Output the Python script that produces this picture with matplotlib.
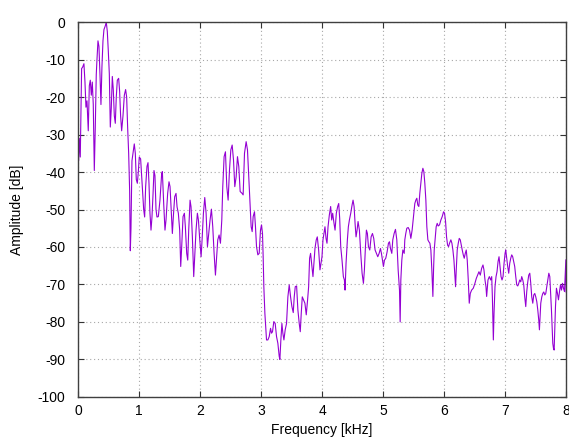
import matplotlib
matplotlib.use("Agg")
import matplotlib.pyplot as plt

# Magnitude spectrum, frequency in kHz and amplitude in dB
freq_khz = [
    0.000, 0.011, 0.022, 0.038, 0.060, 0.077, 0.098, 0.115, 0.131, 0.148,
    0.169, 0.186, 0.202, 0.219, 0.235, 0.251, 0.268, 0.284, 0.300, 0.311,
    0.328, 0.344, 0.361, 0.377, 0.393, 0.410, 0.426, 0.448, 0.464, 0.481,
    0.497, 0.514, 0.530, 0.546, 0.563, 0.579, 0.596, 0.612, 0.628, 0.645,
    0.667, 0.683, 0.699, 0.716, 0.738, 0.760, 0.781, 0.798, 0.814, 0.831,
    0.847, 0.858, 0.869, 0.885, 0.907, 0.923, 0.940, 0.956, 0.973, 0.989,
    1.005, 1.027, 1.044, 1.060, 1.077, 1.093, 1.109, 1.131, 1.148, 1.164,
    1.180, 1.197, 1.213, 1.230, 1.246, 1.262, 1.279, 1.295,
    1.317, 1.344, 1.372, 1.383, 1.405, 1.426, 1.443, 1.470, 1.492, 1.509,
    1.525, 1.547, 1.563, 1.585, 1.607, 1.624, 1.645, 1.667, 1.684, 1.700,
    1.722, 1.744, 1.760, 1.782, 1.799, 1.815, 1.837, 1.853, 1.875, 1.897,
    1.914, 1.935, 1.957, 1.974, 1.996, 2.018, 2.034, 2.056, 2.078, 2.100,
    2.122, 2.144, 2.165, 2.187, 2.209, 2.231, 2.253, 2.269, 2.291, 2.313,
    2.335, 2.357, 2.373, 2.395, 2.417, 2.439, 2.461, 2.483, 2.505, 2.527,
    2.549, 2.570, 2.592, 2.614, 2.636, 2.658,
    2.690, 2.707, 2.729, 2.756, 2.778, 2.794, 2.816, 2.838, 2.855, 2.871,
    2.893, 2.909, 2.926, 2.948, 2.970, 2.991, 3.008, 3.024, 3.035, 3.046,
    3.063, 3.079, 3.090, 3.112, 3.134, 3.156, 3.172, 3.188, 3.210, 3.232,
    3.254, 3.276, 3.298, 3.309, 3.325, 3.342, 3.358, 3.375, 3.396, 3.418,
    3.440, 3.462, 3.484, 3.506, 3.528, 3.544, 3.561, 3.583, 3.604, 3.626,
    3.643, 3.659, 3.676, 3.697, 3.719, 3.741, 3.763, 3.780, 3.796, 3.812,
    3.829, 3.851, 3.867, 3.884, 3.905, 3.922, 3.944, 3.966, 3.982, 3.999,
    4.015,
    4.048, 4.065, 4.081, 4.098, 4.119, 4.141, 4.158, 4.174, 4.196, 4.213,
    4.234, 4.256, 4.273, 4.289, 4.306, 4.327, 4.349, 4.366, 4.377, 4.393,
    4.415, 4.431, 4.448, 4.470, 4.492, 4.508, 4.525, 4.541, 4.557, 4.574,
    4.590, 4.612, 4.634, 4.656, 4.678, 4.694, 4.711, 4.727, 4.743, 4.760,
    4.782, 4.804, 4.826, 4.847, 4.869, 4.891, 4.913, 4.935, 4.957, 4.973,
    4.990, 5.006, 5.023, 5.044, 5.066, 5.088, 5.105, 5.121, 5.143, 5.159,
    5.181, 5.203, 5.225, 5.247, 5.269, 5.280, 5.291, 5.307, 5.324, 5.346,
    5.356, 5.372, 5.389, 5.411, 5.433, 5.455, 5.476, 5.498, 5.520, 5.537,
    5.553, 5.569, 5.586, 5.602, 5.619, 5.635, 5.652, 5.668, 5.684, 5.701,
    5.717, 5.734, 5.750, 5.767, 5.783, 5.799, 5.810, 5.816, 5.827, 5.838,
    5.854, 5.870, 5.887, 5.903, 5.925, 5.947, 5.969, 5.991, 6.007, 6.024,
    6.040, 6.057, 6.073, 6.089, 6.111, 6.128, 6.144, 6.161, 6.177, 6.188,
    6.199, 6.215, 6.232, 6.248, 6.265, 6.281, 6.297, 6.314, 6.330, 6.347,
    6.363, 6.379, 6.396, 6.412, 6.429, 6.451, 6.478, 6.505, 6.527, 6.549,
    6.571, 6.593, 6.615, 6.637, 6.653, 6.670, 6.686, 6.697,
    6.719, 6.741, 6.763, 6.780, 6.791, 6.802, 6.807, 6.818, 6.834, 6.851,
    6.867, 6.884, 6.900, 6.916, 6.933, 6.949, 6.966, 6.982, 6.999, 7.010,
    7.026, 7.042, 7.059, 7.075, 7.092, 7.108, 7.124, 7.141, 7.157, 7.174,
    7.190, 7.207, 7.223, 7.239, 7.256, 7.272, 7.289, 7.305, 7.321, 7.338,
    7.354, 7.371, 7.387, 7.404, 7.420, 7.436, 7.453, 7.469, 7.486, 7.502,
    7.519, 7.535, 7.551, 7.562, 7.573, 7.584, 7.601, 7.617, 7.633, 7.650,
    7.666, 7.683, 7.699, 7.716, 7.732, 7.743, 7.759, 7.770, 7.781, 7.792,
    7.803, 7.814, 7.825, 7.841, 7.858, 7.874, 7.891, 7.907, 7.924, 7.940,
    7.956, 7.973, 7.989, 7.995, 8.000,
]

amp_db = [
    -33.0, -37.0, -31.0, -36.0, -12.4, -12.0, -11.1, -16.0, -22.7, -21.0,
    -29.0, -17.0, -15.5, -19.5, -16.0, -22.0, -39.6, -28.0, -14.0, -10.2,
    -5.0, -6.5, -14.0, -22.0, -12.0, -5.0, -2.0, -1.0, 0.0, -2.5,
    -7.6, -13.8, -28.0, -23.0, -14.5, -18.0, -25.0, -27.0, -20.0, -15.5,
    -15.0, -18.5, -25.0, -29.0, -25.0, -19.5, -18.0, -20.0, -28.0, -35.0,
    -45.0, -61.0, -55.0, -37.0, -34.5, -32.5, -35.0, -42.0, -43.0, -40.0,
    -36.0, -36.5, -41.0, -45.0, -50.0, -52.0, -44.0, -38.5, -37.5, -43.0,
    -51.0, -55.5, -52.0, -46.0, -39.6, -41.0, -50.0, -52.0,
    -51.9, -47.5, -40.4, -39.9, -48.4, -55.5, -52.8, -45.7, -42.6, -43.9,
    -49.3, -56.4, -51.9, -46.6, -45.7, -49.3, -51.0, -55.5, -65.2, -59.9,
    -51.9, -51.0, -54.6, -61.7, -63.5, -55.5, -47.5, -49.3, -57.3, -67.9,
    -62.6, -55.5, -51.0, -52.8, -58.1, -62.6, -58.1, -51.0, -46.8, -51.0,
    -59.9, -56.4, -52.8, -49.9, -54.6, -61.7, -67.5, -63.5, -58.1, -56.8,
    -59.0, -52.8, -43.9, -35.9, -34.6, -43.9, -47.5, -39.5, -34.1, -32.8,
    -36.8, -43.9, -41.3, -35.9, -38.6, -45.2,
    -45.7, -46.1, -35.0, -31.9, -34.1, -39.5, -47.5, -54.6, -55.9, -51.9,
    -50.6, -54.6, -59.9, -62.1, -61.7, -55.5, -54.1, -56.4, -62.6, -70.6,
    -77.7, -82.1, -84.8, -84.8, -83.9, -81.7, -83.0, -82.6, -79.9, -80.4,
    -83.9, -85.7, -89.2, -90.0, -84.8, -80.4, -83.0, -84.8, -82.1, -80.4,
    -73.3, -70.1, -73.3, -75.9, -77.5, -73.3, -70.6, -70.4, -76.8, -80.4,
    -82.6, -77.7, -73.3, -74.1, -75.0, -78.1, -74.1, -70.6, -63.0, -61.7,
    -64.4, -67.9, -64.4, -60.4, -58.1, -57.3, -60.8, -66.1, -64.4, -62.6,
    -58.1,
    -54.6, -57.7, -59.0, -54.6, -51.5, -49.2, -52.8, -51.0, -53.7, -55.5,
    -51.0, -49.2, -48.4, -52.4, -59.9, -63.5, -67.9, -68.8, -71.5, -64.4,
    -58.1, -54.6, -52.8, -51.0, -48.8, -47.5, -49.2, -53.7, -57.3, -55.5,
    -53.2, -55.5, -61.7, -67.0, -69.7, -66.1, -59.9, -55.5, -56.4, -59.9,
    -60.8, -57.3, -56.4, -57.7, -60.8, -61.7, -62.6, -61.7, -60.4, -61.7,
    -63.5, -65.2, -63.5, -63.0, -61.3, -59.0, -58.6, -60.4, -61.7, -58.1,
    -56.4, -55.3, -58.1, -66.1, -71.5, -80.0, -68.8, -63.5, -60.8, -61.7,
    -58.1, -56.4, -55.0, -54.8, -55.5, -57.7, -55.5, -51.9, -48.4, -47.5,
    -47.0, -48.8, -49.2, -45.7, -43.0, -40.4, -39.0, -39.9, -43.0, -47.5,
    -54.6, -58.1, -58.6, -59.0, -60.8, -66.1, -70.6, -73.2, -66.1, -60.8,
    -57.7, -54.6, -53.7, -54.4, -54.1, -52.8, -51.9, -50.6, -51.0, -53.2,
    -57.3, -59.5, -59.9, -59.0, -58.1, -59.0, -60.8, -63.5, -67.9, -70.6,
    -66.1, -60.8, -59.0, -57.7, -58.1, -59.5, -60.8, -62.1, -63.0, -61.7,
    -60.8, -63.5, -68.8, -75.0, -72.4, -71.5, -71.0, -69.7, -68.4, -67.5,
    -66.6, -67.5, -65.7, -64.8, -66.1, -68.8, -70.6, -73.2,
    -68.8, -67.9, -68.8, -67.9, -73.3, -81.2, -84.8, -77.7, -70.6, -67.9,
    -66.6, -63.9, -62.6, -65.2, -67.9, -68.8, -67.9, -64.4, -61.7, -60.8,
    -63.0, -65.2, -67.0, -64.4, -63.0, -62.1, -62.6, -63.9, -65.2, -67.9,
    -70.1, -70.4, -69.7, -68.8, -69.3, -67.9, -68.8, -70.1, -73.3, -75.9,
    -71.9, -69.3, -67.5, -67.0, -69.7, -73.3, -75.0, -72.8, -72.4, -73.3,
    -74.6, -76.8, -79.5, -82.1, -78.6, -75.0, -73.3, -72.4, -72.0, -72.8,
    -72.4, -70.6, -68.8, -67.0, -67.9, -71.5, -76.8, -81.2, -85.7, -87.0,
    -87.5, -82.1, -75.9, -71.0, -72.4, -74.1, -71.9, -70.1, -71.5, -69.7,
    -71.0, -71.9, -66.1, -63.4, -72.0,
]

x_ticks = [0, 1, 2, 3, 4, 5, 6, 7, 8]
y_ticks = [0, -10, -20, -30, -40, -50, -60, -70, -80, -90, -100]

plt.rcParams['font.family'] = ['Liberation Sans', 'DejaVu Sans']

fig = plt.figure(figsize=(5.69, 4.42), dpi=100)
ax = fig.add_axes([0.137, 0.102, 0.858, 0.848])

ax.plot(freq_khz, amp_db, color='#9400D3', linewidth=0.8)

ax.set_xlim(0, 8)
ax.set_ylim(-100, 0)
ax.set_xticks(x_ticks)
ax.set_yticks(y_ticks)
ax.set_xticklabels([str(t) for t in x_ticks], fontsize=10)
ax.set_yticklabels([str(t) for t in y_ticks], fontsize=10)
ax.tick_params(direction='in', length=4, width=0.8, top=True, right=True,
               color='#333333')
ax.tick_params(axis='y', pad=9)
ax.tick_params(axis='x', pad=5)

ax.grid(True, color='#a8a8a8', linestyle=(0, (1, 2.5)), linewidth=0.8)
for spine in ax.spines.values():
    spine.set_color('#404040')
    spine.set_linewidth(1.0)

ax.set_xlabel('Frequency [kHz]', fontsize=10, labelpad=4)
ax.set_ylabel('Amplitude [dB]', fontsize=10, labelpad=10)

fig.savefig('out.png', dpi=100)
